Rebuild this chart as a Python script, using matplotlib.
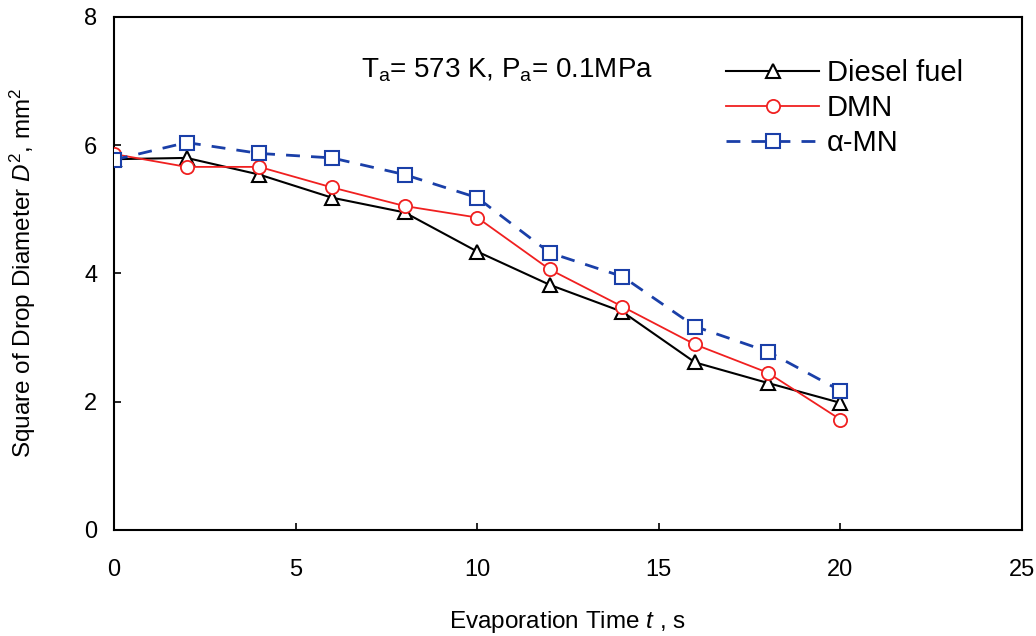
import numpy as np
import matplotlib
matplotlib.use("Agg")
import matplotlib.pyplot as plt

plt.rcParams['font.family'] = ['Liberation Sans', 'DejaVu Sans']
plt.rcParams['mathtext.fontset'] = 'custom'
plt.rcParams['mathtext.rm'] = 'Liberation Sans'
plt.rcParams['mathtext.it'] = 'Liberation Sans:italic'

# evaporation time, s
t = [0, 2, 4, 6, 8, 10, 12, 14, 16, 18, 20]
# square of drop diameter, mm^2
diesel = [5.78, 5.80, 5.54, 5.18, 4.95, 4.34, 3.82, 3.40, 2.61, 2.29, 1.98]
dmn = [5.86, 5.66, 5.66, 5.34, 5.05, 4.87, 4.06, 3.48, 2.89, 2.45, 1.72]
amn = [5.77, 6.04, 5.87, 5.80, 5.54, 5.18, 4.32, 3.95, 3.17, 2.78, 2.17]

fig = plt.figure(figsize=(10.36, 6.36), dpi=100)
ax = fig.add_axes([0.110, 0.167, 0.8765, 0.8065])

ax.plot(t, diesel, color='black', lw=1.5, marker='^', ms=10, mfc='white',
        mec='black', mew=1.5, label='Diesel fuel', zorder=3)
ax.plot(t, dmn, color='#f02020', lw=1.3, marker='o', ms=9.5, mfc='white',
        mec='#f02020', mew=1.3, label='DMN', zorder=4)
ax.plot(t, amn, color='#1a3fa8', lw=2, ls=(0, (5, 4)), marker='s', ms=10,
        mfc='white', mec='#1a3fa8', mew=1.5, label='\u03b1-MN', zorder=5)

ax.set_xlim(0, 25)
ax.set_ylim(0, 8)
ax.set_xticks(np.arange(0, 26, 5))
ax.set_yticks(np.arange(0, 9, 2))
ax.tick_params(direction='in', length=5, width=1.2, labelsize=17)
ax.tick_params(axis='x', pad=21)
ax.tick_params(axis='y', pad=12)
for s in ax.spines.values():
    s.set_linewidth(1.5)

ax.set_xlabel('Evaporation Time $t$ , s', fontsize=17.5, labelpad=20)
ax.set_ylabel('Square of Drop Diameter $D^2$, mm$^2$', fontsize=17.5, labelpad=33)

ax.text(0.272, 0.895, '$\\mathrm{T_a}$= 573 K, $\\mathrm{P_a}$= 0.1MPa',
        transform=ax.transAxes, fontsize=20, va='center')

leg = ax.legend(loc='upper left', bbox_to_anchor=(0.674, 0.918), frameon=False,
                fontsize=21, numpoints=1, handlelength=3.2, handletextpad=0.25,
                labelspacing=0.24, borderpad=0, borderaxespad=0)

fig.savefig('out.png', dpi=100)
